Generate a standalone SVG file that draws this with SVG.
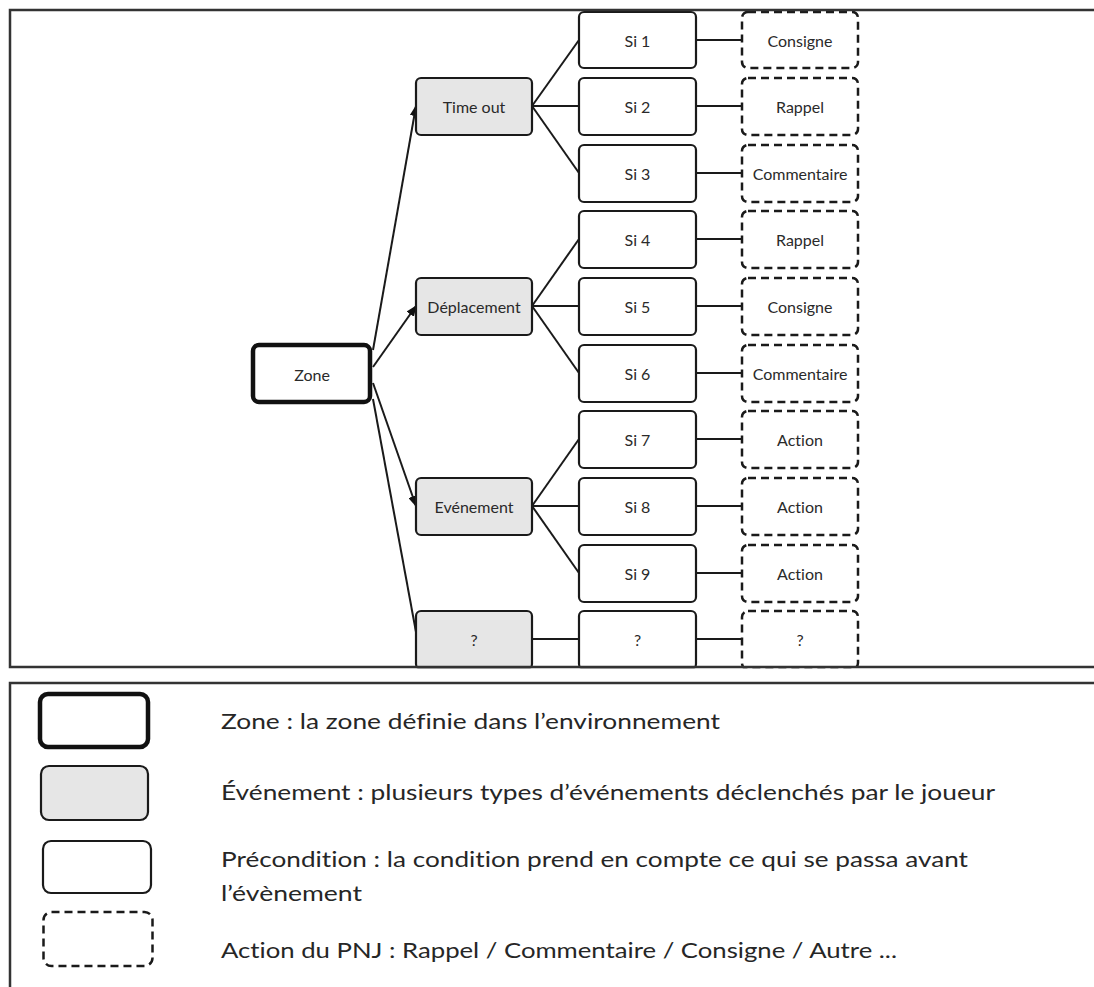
<svg xmlns="http://www.w3.org/2000/svg" width="1094" height="987" viewBox="0 0 1094 987">
<style>
.frame{fill:none;stroke:#333;stroke-width:2.5}
.zone{fill:#fff;stroke:#111;stroke-width:4.5}
.evt{fill:#e6e6e6;stroke:#1a1a1a;stroke-width:2.2}
.pre{fill:#fff;stroke:#1a1a1a;stroke-width:2.2}
.act{fill:#fff;stroke:#1a1a1a;stroke-width:2.5;stroke-dasharray:8 5}
.lbl{font-family:Lato,"Liberation Sans",sans-serif;font-size:16px;fill:#2a2a2a;text-anchor:middle;dominant-baseline:central;font-variant-ligatures:none}
.leg{font-family:Lato,"Liberation Sans",sans-serif;font-size:22px;fill:#262626;font-variant-ligatures:none}
.conn line{stroke:#1a1a1a;stroke-width:2}
</style>
<defs>
<marker id="arr" markerUnits="userSpaceOnUse" markerWidth="11" markerHeight="9" refX="10" refY="4.5" orient="auto">
<path d="M0,0 L11,4.5 L0,9 z" fill="#111"/>
</marker>
</defs>
<rect width="1094" height="987" fill="#fff"/>

<g id="connectors" class="conn">
<line x1="373" y1="350" x2="416" y2="106" marker-end="url(#arr)"/>
<line x1="373" y1="367" x2="416" y2="306" marker-end="url(#arr)"/>
<line x1="373" y1="383" x2="416" y2="506" marker-end="url(#arr)"/>
<line x1="373" y1="399" x2="416" y2="632"/>
<line x1="532" y1="106" x2="579" y2="40"/>
<line x1="532" y1="106" x2="579" y2="106"/>
<line x1="532" y1="106" x2="579" y2="173"/>
<line x1="532" y1="306" x2="579" y2="239"/>
<line x1="532" y1="306" x2="579" y2="306"/>
<line x1="532" y1="306" x2="579" y2="373"/>
<line x1="532" y1="506" x2="579" y2="439"/>
<line x1="532" y1="506" x2="579" y2="506"/>
<line x1="532" y1="506" x2="579" y2="573"/>
<line x1="532" y1="639" x2="579" y2="639"/>
<line x1="696" y1="40" x2="742" y2="40"/>
<line x1="696" y1="106" x2="742" y2="106"/>
<line x1="696" y1="173" x2="742" y2="173"/>
<line x1="696" y1="239" x2="742" y2="239"/>
<line x1="696" y1="306" x2="742" y2="306"/>
<line x1="696" y1="373" x2="742" y2="373"/>
<line x1="696" y1="439" x2="742" y2="439"/>
<line x1="696" y1="506" x2="742" y2="506"/>
<line x1="696" y1="573" x2="742" y2="573"/>
<line x1="696" y1="639" x2="742" y2="639"/>
</g>

<g id="zone"><rect class="zone" x="253" y="345" width="117" height="57" rx="6"/><text class="lbl" x="312" y="374">Zone</text></g>

<g id="timeout"><rect class="evt" x="416" y="78" width="116" height="57" rx="5"/><text class="lbl" x="474" y="106">Time out</text></g>
<g id="deplacement"><rect class="evt" x="416" y="278" width="116" height="57" rx="5"/><text class="lbl" x="474" y="306">Déplacement</text></g>
<g id="evenement"><rect class="evt" x="416" y="478" width="116" height="57" rx="5"/><text class="lbl" x="474" y="506">Evénement</text></g>
<g id="evt-q"><rect class="evt" x="416" y="611" width="116" height="58" rx="5"/><text class="lbl" x="474" y="639">?</text></g>

<g id="si1"><rect class="pre" x="579" y="12" width="117" height="56" rx="5"/><text class="lbl" x="637.5" y="40">Si 1</text></g>
<g id="si2"><rect class="pre" x="579" y="78" width="117" height="57" rx="5"/><text class="lbl" x="637.5" y="106">Si 2</text></g>
<g id="si3"><rect class="pre" x="579" y="145" width="117" height="57" rx="5"/><text class="lbl" x="637.5" y="173">Si 3</text></g>
<g id="si4"><rect class="pre" x="579" y="211" width="117" height="57" rx="5"/><text class="lbl" x="637.5" y="239">Si 4</text></g>
<g id="si5"><rect class="pre" x="579" y="278" width="117" height="57" rx="5"/><text class="lbl" x="637.5" y="306">Si 5</text></g>
<g id="si6"><rect class="pre" x="579" y="345" width="117" height="57" rx="5"/><text class="lbl" x="637.5" y="373">Si 6</text></g>
<g id="si7"><rect class="pre" x="579" y="411" width="117" height="57" rx="5"/><text class="lbl" x="637.5" y="439">Si 7</text></g>
<g id="si8"><rect class="pre" x="579" y="478" width="117" height="57" rx="5"/><text class="lbl" x="637.5" y="506">Si 8</text></g>
<g id="si9"><rect class="pre" x="579" y="545" width="117" height="57" rx="5"/><text class="lbl" x="637.5" y="573">Si 9</text></g>
<g id="pre-q"><rect class="pre" x="579" y="611" width="117" height="58" rx="5"/><text class="lbl" x="637.5" y="639">?</text></g>

<g id="act1"><rect class="act" x="742" y="12" width="116" height="56" rx="6"/><text class="lbl" x="800" y="40">Consigne</text></g>
<g id="act2"><rect class="act" x="742" y="78" width="116" height="57" rx="6"/><text class="lbl" x="800" y="106">Rappel</text></g>
<g id="act3"><rect class="act" x="742" y="145" width="116" height="57" rx="6"/><text class="lbl" x="800" y="173">Commentaire</text></g>
<g id="act4"><rect class="act" x="742" y="211" width="116" height="57" rx="6"/><text class="lbl" x="800" y="239">Rappel</text></g>
<g id="act5"><rect class="act" x="742" y="278" width="116" height="57" rx="6"/><text class="lbl" x="800" y="306">Consigne</text></g>
<g id="act6"><rect class="act" x="742" y="345" width="116" height="57" rx="6"/><text class="lbl" x="800" y="373">Commentaire</text></g>
<g id="act7"><rect class="act" x="742" y="411" width="116" height="57" rx="6"/><text class="lbl" x="800" y="439">Action</text></g>
<g id="act8"><rect class="act" x="742" y="478" width="116" height="57" rx="6"/><text class="lbl" x="800" y="506">Action</text></g>
<g id="act9"><rect class="act" x="742" y="545" width="116" height="57" rx="6"/><text class="lbl" x="800" y="573">Action</text></g>
<g id="act-q"><rect class="act" x="742" y="611" width="116" height="58" rx="6"/><text class="lbl" x="800" y="639">?</text></g>

<g id="frames">
<rect x="0" y="668.3" width="1094" height="13.5" fill="#fff"/>
<path class="frame" d="M1094,10 H10 V667 H1094"/>
<path class="frame" d="M1094,683 H10 V987"/>
</g>

<g id="legend">
<rect class="zone" x="40" y="694" width="108" height="53" rx="8"/>
<rect class="evt" x="41" y="766" width="107" height="54" rx="8" stroke-width="2.5"/>
<rect class="pre" x="43" y="841" width="108" height="52" rx="8" stroke-width="2.5"/>
<rect class="act" x="43.5" y="912" width="109" height="54" rx="8"/>
<text class="leg" x="221" y="729" textLength="499" lengthAdjust="spacingAndGlyphs">Zone : la zone définie dans l’environnement</text>
<text class="leg" x="221" y="800" textLength="774" lengthAdjust="spacingAndGlyphs">Événement : plusieurs types d’événements déclenchés par le joueur</text>
<text class="leg" x="221" y="867" textLength="747" lengthAdjust="spacingAndGlyphs">Précondition : la condition prend en compte ce qui se passa avant</text>
<text class="leg" x="221" y="901" textLength="141" lengthAdjust="spacingAndGlyphs">l’évènement</text>
<text class="leg" x="221" y="958" textLength="676" lengthAdjust="spacingAndGlyphs">Action du PNJ : Rappel / Commentaire / Consigne / Autre ...</text>
</g>
</svg>
